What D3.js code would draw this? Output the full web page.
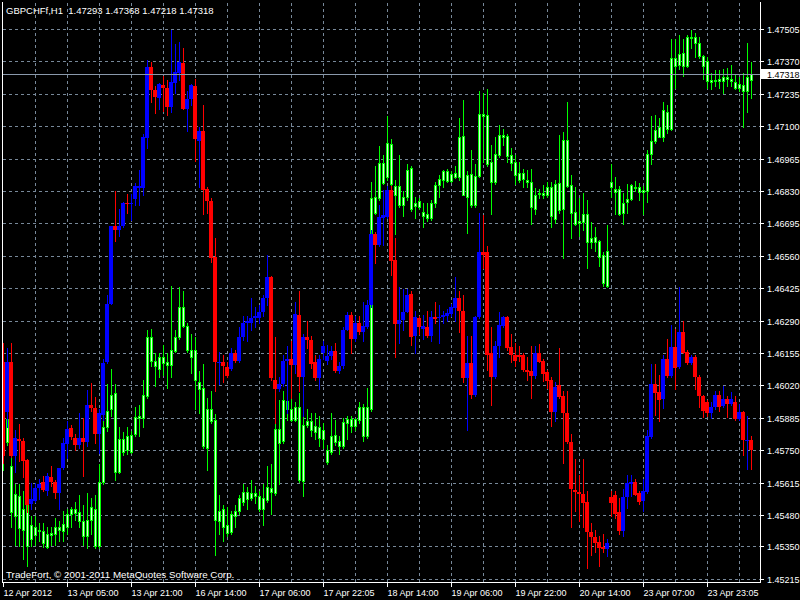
<!DOCTYPE html>
<html><head><meta charset="utf-8">
<script src="https://cdn.jsdelivr.net/npm/d3@7/dist/d3.min.js"></script>
<style>html,body{margin:0;padding:0;background:#000;overflow:hidden}</style>
</head><body>
<svg id="chart" width="800" height="600"></svg>
<script>
// ---------------- data ----------------
const chartTitle = "GBPCHFf,H1";
const lastBar = [1.47293, 1.47368, 1.47218, 1.47318]; // O H L C of last main bar
const bidPrice = 1.47318;
const copyright = "TradeFort, \u00a9 2001-2011 MetaQuotes Software Corp.";
const priceTicks = [1.47505,1.47370,1.47235,1.47100,1.46965,1.46830,1.46695,1.46560,1.46425,1.46290,1.46155,1.46020,1.45885,1.45750,1.45615,1.45480,1.45350,1.45215];
const timeLabels = ["12 Apr 2012","13 Apr 05:00","13 Apr 21:00","16 Apr 14:00","17 Apr 06:00","17 Apr 22:05","18 Apr 14:00","19 Apr 06:00","19 Apr 22:00","20 Apr 14:00","23 Apr 07:00","23 Apr 23:05"];
const timeLabelBars = [0,16,32,48,64,80,96,112,128,144,160,176];

// main symbol (green candles)
const gOpen = [
1.45892,1.45880,1.45684,1.45568,1.45560,1.45505,1.45521,1.45439,1.45431,1.45416,
1.45413,1.45401,1.45407,1.45431,1.45431,1.45443,1.45483,1.45505,1.45505,1.45491,
1.45453,1.45461,1.45513,1.45505,1.45617,1.45847,1.45915,1.45982,1.45989,1.45795,
1.45795,1.45810,1.45815,1.45889,1.45892,1.45982,1.46223,1.46223,1.46123,1.46138,
1.46138,1.46116,1.46168,1.46220,1.46346,1.46346,1.46267,1.46168,1.46168,1.46034,
1.46011,1.45922,1.45922,1.45877,1.45498,1.45503,1.45439,1.45483,1.45498,1.45550,
1.45577,1.45577,1.45573,1.45573,1.45558,1.45550,1.45595,1.45592,1.45840,1.45840,
1.45959,1.45955,1.45922,1.45930,1.45930,1.45855,1.45870,1.45870,1.45851,1.45847,
1.45833,1.45751,1.45810,1.45815,1.45788,1.45866,1.45880,1.45880,1.45880,1.45930,
1.45930,1.45930,1.46800,1.46803,1.46946,1.46946,1.47031,1.47026,1.46852,1.46852,
1.46807,1.46919,1.46926,1.46782,1.46788,1.46743,1.46733,1.46778,1.46857,1.46882,
1.46912,1.46915,1.46901,1.46904,1.47056,1.47060,1.46897,1.46901,1.46894,1.47150,
1.47150,1.47145,1.46949,1.46986,1.47065,1.47065,1.47060,1.46982,1.46949,1.46904,
1.46904,1.46874,1.46867,1.46815,1.46822,1.46822,1.46845,1.46845,1.46860,1.46864,
1.47043,1.47043,1.46857,1.46743,1.46703,1.46736,1.46736,1.46636,1.46639,1.46621,
1.46562,1.46580,1.46867,1.46839,1.46839,1.46782,1.46797,1.46857,1.46848,1.46848,
1.46833,1.46985,1.47038,1.47083,1.47095,1.47169,1.47160,1.47386,1.47386,1.47400,
1.47403,1.47473,1.47473,1.47473,1.47447,1.47392,1.47373,1.47291,1.47294,1.47298,
1.47303,1.47306,1.47298,1.47284,1.47276,1.47273,1.47306,1.47293];
const gHigh = [
1.45922,1.45910,1.45729,1.45610,1.45610,1.45580,1.45610,1.45476,1.45476,1.45446,
1.45446,1.45431,1.45431,1.45468,1.45453,1.45498,1.45505,1.45513,1.45536,1.45565,
1.45521,1.45573,1.45550,1.45565,1.45691,1.45907,1.46026,1.46089,1.46026,1.45847,
1.45825,1.45847,1.45832,1.45930,1.45937,1.46041,1.46249,1.46257,1.46153,1.46153,
1.46190,1.46153,1.46435,1.46249,1.46428,1.46413,1.46279,1.46235,1.46220,1.46078,
1.46108,1.45967,1.45996,1.45900,1.45565,1.45521,1.45513,1.45498,1.45521,1.45565,
1.45610,1.45595,1.45625,1.45602,1.45580,1.45610,1.45684,1.45691,1.45870,1.45959,
1.45996,1.45996,1.45982,1.45952,1.45989,1.45907,1.45922,1.45907,1.45907,1.45892,
1.45862,1.45773,1.45907,1.45877,1.45810,1.45885,1.45892,1.45892,1.45885,1.45952,
1.45944,1.46011,1.46867,1.46934,1.47016,1.46979,1.47142,1.47046,1.46874,1.46979,
1.46830,1.46941,1.46934,1.46807,1.46800,1.46778,1.46778,1.46793,1.46867,1.46897,
1.46919,1.46922,1.46912,1.46934,1.47135,1.47209,1.46912,1.47001,1.46941,1.47246,
1.47239,1.47254,1.47023,1.47053,1.47105,1.47090,1.47068,1.47011,1.46979,1.46952,
1.46922,1.46919,1.46922,1.46842,1.46837,1.46857,1.46867,1.46867,1.46874,1.47065,
1.47075,1.47199,1.46897,1.46845,1.46800,1.46822,1.46793,1.46699,1.46681,1.46624,
1.46577,1.46688,1.46941,1.46889,1.46852,1.46822,1.46860,1.46860,1.46871,1.46863,
1.46852,1.47001,1.47142,1.47145,1.47135,1.47202,1.47187,1.47462,1.47462,1.47482,
1.47462,1.47482,1.47502,1.47487,1.47473,1.47395,1.47388,1.47321,1.47336,1.47336,
1.47339,1.47343,1.47354,1.47313,1.47306,1.47321,1.47447,1.47368];
const gLow = [
1.45669,1.45773,1.45431,1.45357,1.45349,1.45297,1.45267,1.45349,1.45357,1.45372,
1.45345,1.45342,1.45357,1.45357,1.45372,1.45372,1.45401,1.45431,1.45461,1.45431,
1.45357,1.45342,1.45401,1.45342,1.45342,1.45610,1.45832,1.45892,1.45625,1.45654,
1.45729,1.45736,1.45740,1.45810,1.45810,1.45847,1.45967,1.46101,1.46019,1.46056,
1.46063,1.46011,1.46056,1.46160,1.46212,1.46264,1.46160,1.46071,1.45922,1.45907,
1.45758,1.45669,1.45862,1.45312,1.45401,1.45372,1.45394,1.45401,1.45431,1.45483,
1.45521,1.45505,1.45543,1.45528,1.45498,1.45439,1.45536,1.45483,1.45565,1.45610,
1.45781,1.45877,1.45870,1.45870,1.45617,1.45558,1.45847,1.45810,1.45795,1.45766,
1.45758,1.45691,1.45736,1.45773,1.45736,1.45758,1.45795,1.45825,1.45833,1.45862,
1.45788,1.45802,1.45915,1.46733,1.46793,1.46860,1.46874,1.46718,1.46651,1.46763,
1.46726,1.46793,1.46748,1.46718,1.46755,1.46681,1.46703,1.46711,1.46763,1.46807,
1.46845,1.46867,1.46867,1.46886,1.46874,1.46815,1.46654,1.46763,1.46763,1.46889,
1.46949,1.46934,1.46733,1.46860,1.46971,1.47023,1.46949,1.46919,1.46860,1.46867,
1.46845,1.46845,1.46693,1.46733,1.46800,1.46800,1.46807,1.46678,1.46696,1.46740,
1.46550,1.46845,1.46633,1.46688,1.46644,1.46666,1.46510,1.46592,1.46580,1.46517,
1.46435,1.46431,1.46807,1.46733,1.46729,1.46693,1.46740,1.46793,1.46830,1.46793,
1.46733,1.46785,1.46941,1.47031,1.47053,1.47038,1.47071,1.47086,1.47261,1.47339,
1.47309,1.47348,1.47425,1.47388,1.47383,1.47298,1.47261,1.47254,1.47269,1.47258,
1.47239,1.47269,1.47269,1.47254,1.47246,1.47098,1.47160,1.47218];
const gClose = [
1.45788,1.45785,1.45491,1.45476,1.45424,1.45416,1.45349,1.45379,1.45398,1.45412,
1.45364,1.45345,1.45398,1.45401,1.45416,1.45413,1.45431,1.45483,1.45488,1.45453,
1.45394,1.45394,1.45461,1.45349,1.45349,1.45617,1.45847,1.45922,1.45661,1.45661,
1.45743,1.45750,1.45743,1.45817,1.45885,1.45885,1.45974,1.46123,1.46101,1.46089,
1.46113,1.46104,1.46104,1.46163,1.46220,1.46267,1.46168,1.46138,1.46041,1.46004,
1.45766,1.45758,1.45870,1.45461,1.45453,1.45431,1.45404,1.45409,1.45476,1.45498,
1.45536,1.45547,1.45550,1.45558,1.45503,1.45503,1.45543,1.45577,1.45573,1.45781,
1.45788,1.45922,1.45877,1.45877,1.45625,1.45622,1.45855,1.45833,1.45825,1.45802,
1.45795,1.45702,1.45743,1.45785,1.45766,1.45766,1.45862,1.45851,1.45851,1.45874,
1.45810,1.45810,1.45922,1.46740,1.46800,1.46863,1.46889,1.46860,1.46815,1.46770,
1.46770,1.46803,1.46755,1.46767,1.46763,1.46726,1.46718,1.46718,1.46778,1.46857,
1.46874,1.46871,1.46871,1.46889,1.46889,1.46815,1.46807,1.46770,1.46770,1.46892,
1.47142,1.46941,1.46867,1.46867,1.46979,1.47057,1.46976,1.46946,1.46897,1.46874,
1.46879,1.46867,1.46763,1.46755,1.46818,1.46815,1.46815,1.46726,1.46714,1.46751,
1.46755,1.46852,1.46740,1.46693,1.46696,1.46700,1.46618,1.46618,1.46618,1.46554,
1.46446,1.46435,1.46845,1.46827,1.46733,1.46740,1.46785,1.46797,1.46842,1.46827,
1.46827,1.46830,1.46985,1.47038,1.47053,1.47053,1.47090,1.47090,1.47351,1.47354,
1.47351,1.47351,1.47467,1.47447,1.47392,1.47351,1.47288,1.47284,1.47288,1.47288,
1.47288,1.47296,1.47288,1.47261,1.47261,1.47246,1.47246,1.47318];

// overlaid symbol (red / blue candles)
const oOpen = [
1.46119,1.45910,1.46119,1.45725,1.45798,1.45788,1.45710,1.45524,1.45540,1.45591,
1.45619,1.45579,1.45640,1.45619,1.45570,1.45674,1.45776,1.45843,1.45802,1.45773,
1.45802,1.45786,1.45940,1.45926,1.45817,1.45898,1.46116,1.46361,1.46684,1.46666,
1.46684,1.46782,1.46775,1.46797,1.46842,1.46842,1.47049,1.47346,1.47249,1.47217,
1.47273,1.47261,1.47181,1.47282,1.47321,1.47365,1.47172,1.47214,1.47269,1.47038,
1.47078,1.46837,1.46788,1.46554,1.46113,1.46119,1.46098,1.46089,1.46157,1.46123,
1.46220,1.46279,1.46282,1.46302,1.46302,1.46324,1.46386,1.46473,1.46041,1.46004,
1.46026,1.46120,1.46128,1.46104,1.46315,1.46056,1.46220,1.46211,1.46116,1.46049,
1.46157,1.46123,1.46142,1.46163,1.46078,1.46101,1.46252,1.46315,1.46212,1.46279,
1.46242,1.46264,1.46354,1.46651,1.46607,1.46718,1.46723,1.46833,1.46544,1.46276,
1.46291,1.46327,1.46401,1.46227,1.46299,1.46255,1.46264,1.46227,1.46305,1.46300,
1.46306,1.46309,1.46316,1.46342,1.46386,1.46331,1.46049,1.46113,1.45979,1.46306,
1.46577,1.46574,1.46153,1.46056,1.46186,1.46269,1.46303,1.46178,1.46148,1.46148,
1.46145,1.46086,1.46078,1.46059,1.46157,1.46123,1.46074,1.46044,1.45910,1.46023,
1.45974,1.45907,1.45785,1.45586,1.45577,1.45568,1.45535,1.45409,1.45389,1.45367,
1.45345,1.45339,1.45554,1.45565,1.45491,1.45413,1.45554,1.45610,1.45619,1.45571,
1.45539,1.45577,1.45806,1.46026,1.45991,1.45962,1.46128,1.46059,1.46181,1.46098,
1.46241,1.46160,1.46113,1.46138,1.46056,1.45974,1.45949,1.45904,1.45929,1.45979,
1.45934,1.45964,1.45944,1.45952,1.45880,1.45910,1.45788,1.45794];
const oHigh = [
1.46198,1.46177,1.46195,1.45836,1.45861,1.45799,1.45712,1.45614,1.45614,1.45628,
1.45644,1.45655,1.45683,1.45625,1.45676,1.45802,1.45870,1.45855,1.45817,1.45903,
1.45886,1.46002,1.46028,1.45970,1.45922,1.46131,1.46398,1.46686,1.46828,1.46755,
1.46785,1.46819,1.46818,1.46863,1.46919,1.47068,1.47376,1.47368,1.47269,1.47278,
1.47310,1.47291,1.47499,1.47443,1.47452,1.47425,1.47246,1.47276,1.47298,1.47098,
1.47187,1.46845,1.46800,1.46636,1.46160,1.46145,1.46116,1.46175,1.46168,1.46264,
1.46309,1.46309,1.46386,1.46346,1.46354,1.46398,1.46562,1.46476,1.46220,1.46056,
1.46145,1.46183,1.46205,1.46369,1.46413,1.46235,1.46287,1.46227,1.46145,1.46145,
1.46205,1.46190,1.46183,1.46198,1.46116,1.46264,1.46324,1.46324,1.46309,1.46309,
1.46369,1.46376,1.46666,1.46659,1.46770,1.46833,1.46852,1.46852,1.46636,1.46428,
1.46421,1.46421,1.46413,1.46331,1.46309,1.46315,1.46331,1.46331,1.46369,1.46354,
1.46331,1.46339,1.46361,1.46473,1.46413,1.46398,1.46227,1.46227,1.46309,1.46740,
1.46729,1.46599,1.46264,1.46205,1.46324,1.46309,1.46309,1.46235,1.46198,1.46183,
1.46153,1.46138,1.46183,1.46183,1.46193,1.46131,1.46086,1.46056,1.46034,1.46175,
1.45996,1.45996,1.45817,1.45714,1.45647,1.45714,1.45580,1.45446,1.45416,1.45394,
1.45401,1.45379,1.45580,1.45580,1.45550,1.45588,1.45647,1.45647,1.45632,1.45580,
1.45632,1.45833,1.46108,1.46108,1.46063,1.46145,1.46212,1.46272,1.46257,1.46428,
1.46287,1.46168,1.46145,1.46145,1.46063,1.45982,1.45959,1.45952,1.45996,1.45996,
1.46019,1.45974,1.45993,1.45974,1.45944,1.45915,1.45892,1.45810];
const oLow = [
1.45698,1.45847,1.45721,1.45661,1.45703,1.45640,1.45491,1.45503,1.45536,1.45545,
1.45580,1.45565,1.45600,1.45549,1.45503,1.45672,1.45718,1.45795,1.45750,1.45758,
1.45644,1.45768,1.45915,1.45780,1.45739,1.45877,1.46114,1.46359,1.46621,1.46644,
1.46681,1.46740,1.46711,1.46773,1.46770,1.46815,1.47008,1.47202,1.47154,1.47172,
1.47165,1.47145,1.47160,1.47239,1.47291,1.47170,1.47080,1.47187,1.46956,1.46845,
1.46733,1.46740,1.46535,1.45996,1.46026,1.46034,1.46056,1.46086,1.46116,1.46119,
1.46208,1.46205,1.46249,1.46264,1.46279,1.46309,1.46354,1.46041,1.45862,1.45996,
1.46019,1.45907,1.45967,1.46071,1.45996,1.45892,1.46175,1.46093,1.46041,1.46004,
1.46131,1.46108,1.46131,1.46074,1.46071,1.46093,1.46249,1.46153,1.46205,1.46235,
1.46205,1.46261,1.46346,1.46532,1.46599,1.46607,1.46717,1.46480,1.46138,1.46198,
1.46249,1.46324,1.46190,1.46153,1.46235,1.46212,1.46220,1.46205,1.46279,1.46198,
1.46279,1.46287,1.46309,1.46287,1.46242,1.46034,1.45836,1.45967,1.45974,1.46302,
1.46510,1.46086,1.45937,1.46049,1.46138,1.46264,1.46168,1.46116,1.46101,1.46123,
1.46078,1.46041,1.45967,1.46049,1.46116,1.46038,1.46011,1.45850,1.45870,1.45967,
1.45695,1.45780,1.45431,1.45498,1.45453,1.45431,1.45260,1.45312,1.45324,1.45267,
1.45327,1.45309,1.45476,1.45468,1.45401,1.45394,1.45509,1.45558,1.45562,1.45524,
1.45498,1.45573,1.45802,1.45895,1.45870,1.45925,1.46056,1.46056,1.46004,1.46093,
1.46153,1.46108,1.46108,1.46004,1.45929,1.45889,1.45892,1.45885,1.45922,1.45915,
1.45929,1.45889,1.45937,1.45877,1.45877,1.45728,1.45672,1.45672];
const oClose = [
1.45725,1.46119,1.45725,1.45799,1.45788,1.45707,1.45521,1.45545,1.45591,1.45610,
1.45583,1.45644,1.45617,1.45571,1.45674,1.45780,1.45840,1.45804,1.45773,1.45802,
1.45786,1.45940,1.45925,1.45817,1.45903,1.46114,1.46361,1.46684,1.46666,1.46684,
1.46782,1.46775,1.46779,1.46851,1.46851,1.47053,1.47346,1.47249,1.47220,1.47276,
1.47258,1.47181,1.47284,1.47324,1.47368,1.47172,1.47214,1.47272,1.47046,1.47078,
1.46833,1.46788,1.46550,1.46119,1.46119,1.46101,1.46059,1.46157,1.46123,1.46220,
1.46282,1.46287,1.46302,1.46309,1.46324,1.46386,1.46473,1.46049,1.46004,1.46026,
1.46123,1.46131,1.46104,1.46319,1.46056,1.46220,1.46208,1.46108,1.46049,1.46128,
1.46183,1.46142,1.46163,1.46078,1.46101,1.46252,1.46315,1.46212,1.46279,1.46242,
1.46267,1.46354,1.46651,1.46607,1.46721,1.46729,1.46833,1.46540,1.46276,1.46294,
1.46327,1.46395,1.46223,1.46306,1.46264,1.46269,1.46227,1.46305,1.46297,1.46306,
1.46312,1.46321,1.46346,1.46386,1.46331,1.46049,1.46113,1.45982,1.46306,1.46577,
1.46562,1.46145,1.46056,1.46186,1.46272,1.46303,1.46175,1.46145,1.46123,1.46138,
1.46083,1.46074,1.46060,1.46157,1.46119,1.46068,1.46038,1.45910,1.46014,1.45970,
1.45907,1.45785,1.45588,1.45577,1.45568,1.45532,1.45409,1.45389,1.45364,1.45342,
1.45339,1.45364,1.45528,1.45483,1.45413,1.45554,1.45613,1.45616,1.45565,1.45536,
1.45580,1.45810,1.46026,1.45988,1.45958,1.46128,1.46059,1.46178,1.46092,1.46242,
1.46157,1.46113,1.46138,1.46053,1.45974,1.45915,1.45907,1.45932,1.45979,1.45932,
1.45964,1.45944,1.45962,1.45880,1.45910,1.45791,1.45794,1.45749];

// ---------------- drawing ----------------
const W = 800, H = 600;
const plotL = 2, plotR = 760, plotT = 2, plotB = 582;
const nBars = gOpen.length;
const x = d3.scaleLinear().domain([0, nBars - 1]).range([3, 3 + 4 * (nBars - 1)]);
const y = d3.scaleLinear().domain([1.45215, 1.47505]).range([578.6, 29]);
const FONT = "'Liberation Sans', Arial, sans-serif";

const svg = d3.select("#chart").attr("shape-rendering", "crispEdges");
svg.append("rect").attr("width", W).attr("height", H).attr("fill", "#000");

svg.append("defs").append("clipPath").attr("id", "plotClip")
  .append("rect").attr("x", plotL + 1).attr("y", plotT).attr("width", plotR - plotL - 1).attr("height", plotB - plotT);

// grid
const grid = svg.append("g").attr("stroke", "#778899").attr("stroke-dasharray", "3,3").attr("stroke-width", 1);
grid.selectAll("line.h").data(priceTicks).join("line")
  .attr("x1", plotL + 1).attr("x2", plotR)
  .attr("y1", d => Math.round(y(d)) + 0.5).attr("y2", d => Math.round(y(d)) + 0.5);
grid.selectAll("line.v").data(d3.range(8, nBars, 8)).join("line")
  .attr("x1", d => x(d) + 0.5).attr("x2", d => x(d) + 0.5)
  .attr("y1", plotT + 1).attr("y2", plotB);

const plot = svg.append("g").attr("clip-path", "url(#plotClip)");

const px = v => Math.round(y(v));

// green main candles
const gData = d3.range(nBars).map(i => ({i, o: gOpen[i], h: gHigh[i], l: gLow[i], c: gClose[i]}));
const gG = plot.append("g");
gG.selectAll("rect.w").data(gData).join("rect")
  .attr("x", d => x(d.i)).attr("width", 1)
  .attr("y", d => px(d.h)).attr("height", d => Math.max(1, px(d.l) - px(d.h) + 1))
  .attr("fill", "#00ff00");
gG.selectAll("rect.b").data(gData).join("rect")
  .attr("x", d => x(d.i) - 1).attr("width", 3)
  .attr("y", d => px(Math.max(d.o, d.c)))
  .attr("height", d => Math.max(2, px(Math.min(d.o, d.c)) - px(Math.max(d.o, d.c)) + 1))
  .attr("fill", "#00ff00");
gG.selectAll("rect.i").data(gData.filter(d => px(Math.min(d.o, d.c)) - px(Math.max(d.o, d.c)) > 1)).join("rect")
  .attr("x", d => x(d.i)).attr("width", 1)
  .attr("y", d => px(Math.max(d.o, d.c)) + 1)
  .attr("height", d => px(Math.min(d.o, d.c)) - px(Math.max(d.o, d.c)) - 1)
  .attr("fill", "#d8ffd8");

// red/blue overlay candles
const oData = d3.range(oOpen.length).map(i => ({i, o: oOpen[i], h: oHigh[i], l: oLow[i], c: oClose[i]}));
const col = d => d.c > d.o ? "#0000ff" : "#ff0000";
const oG = plot.append("g");
oG.selectAll("rect.w").data(oData).join("rect")
  .attr("x", d => x(d.i)).attr("width", 1)
  .attr("y", d => px(d.h)).attr("height", d => Math.max(1, px(d.l) - px(d.h) + 1))
  .attr("fill", col);
oG.selectAll("rect.b").data(oData).join("rect")
  .attr("x", d => x(d.i) - 2).attr("width", 4)
  .attr("y", d => px(Math.max(d.o, d.c)))
  .attr("height", d => Math.max(1, px(Math.min(d.o, d.c)) - px(Math.max(d.o, d.c))))
  .attr("fill", col);

// bid line
const by = px(bidPrice) + 0.5;
svg.append("line").attr("x1", plotL + 1).attr("x2", plotR).attr("y1", by).attr("y2", by)
  .attr("stroke", "#8a99ab").attr("stroke-width", 1);

// frame
const frame = svg.append("g").attr("stroke", "#fff").attr("stroke-width", 1).attr("fill", "none");
frame.append("line").attr("x1", plotL + 0.5).attr("x2", plotL + 0.5).attr("y1", plotT).attr("y2", plotB + 1);
frame.append("line").attr("x1", plotR + 0.5).attr("x2", plotR + 0.5).attr("y1", plotT).attr("y2", plotB + 1);
frame.append("line").attr("x1", plotL).attr("x2", plotR + 1).attr("y1", plotB + 0.5).attr("y2", plotB + 0.5);

// right price axis
const ra = svg.append("g");
ra.selectAll("line").data(priceTicks).join("line")
  .attr("x1", plotR).attr("x2", plotR + 4)
  .attr("y1", d => px(d) + 0.5).attr("y2", d => px(d) + 0.5)
  .attr("stroke", "#fff");
ra.selectAll("text").data(priceTicks).join("text")
  .attr("x", 767).attr("y", d => px(d) + 3.5)
  .attr("fill", "#fff").attr("font-family", FONT).attr("font-size", 9)
  .text(d => d.toFixed(5));

// bid label
svg.append("rect").attr("x", plotR + 1).attr("y", px(bidPrice) - 5).attr("width", W - plotR - 1).attr("height", 10).attr("fill", "#fff");
svg.append("text").attr("x", 767).attr("y", px(bidPrice) + 3.5)
  .attr("fill", "#000").attr("font-family", FONT).attr("font-size", 9).text(bidPrice.toFixed(5));

// bottom time axis
const ba = svg.append("g");
ba.selectAll("line").data(timeLabelBars).join("line")
  .attr("x1", d => x(d) + 0.5).attr("x2", d => x(d) + 0.5)
  .attr("y1", plotB).attr("y2", plotB + 5).attr("stroke", "#fff");
ba.selectAll("text").data(timeLabels).join("text")
  .attr("x", (d, k) => x(timeLabelBars[k]) + 0.5).attr("y", 596)
  .attr("fill", "#fff").attr("font-family", FONT).attr("font-size", 9)
  .text(d => d);

// title + copyright
svg.append("text").attr("x", 6).attr("y", 14).attr("fill", "#fff")
  .attr("font-family", FONT).attr("font-size", 9.5).style("white-space", "pre")
  .text(chartTitle + "  " + lastBar.map(v => v.toFixed(5)).join(" "));
svg.append("text").attr("x", 6).attr("y", 578).attr("fill", "#fff")
  .attr("font-family", FONT).attr("font-size", 9.8).text(copyright);
</script>
</body></html>
